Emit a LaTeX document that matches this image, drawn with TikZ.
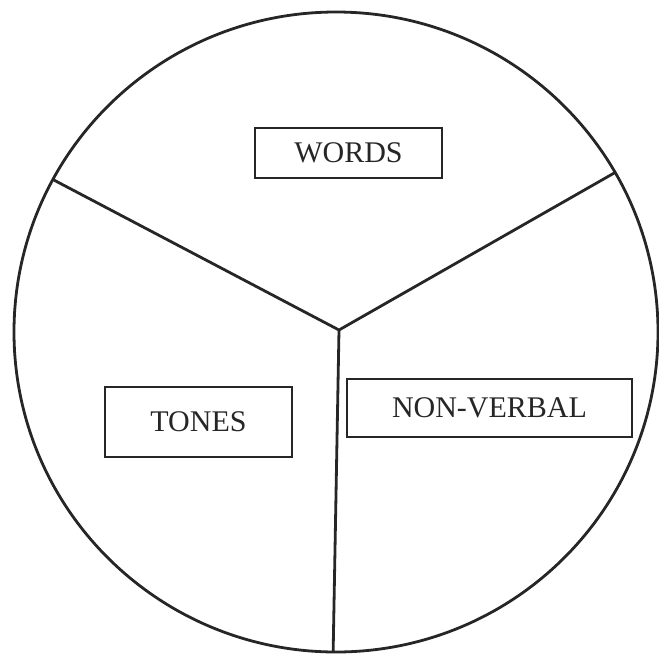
\documentclass[tikz,border=0pt]{standalone}
\usepackage{fontspec}
\setmainfont{Liberation Serif}
\begin{document}
\begin{tikzpicture}[x=1pt,y=-1pt,
  divider/.style={line width=2.8pt, draw=black!85},
  labelbox/.style={draw=black!85, line width=1.5pt, inner sep=0pt, font=\fontsize{30}{32}\selectfont, text=black!85}]
\useasboundingbox (0,0) rectangle (659,654);
\coordinate (o) at (336,332);
\coordinate (c) at (339,330);
\coordinate (l) at (50,178);
\coordinate (r) at (630,164);
\coordinate (b) at (333,660);
\begin{scope}
  \clip (o) ellipse [x radius=322, y radius=320];
  \draw[divider] (l) -- (c) -- (r);
  \draw[divider] (c) -- (b);
\end{scope}
\draw[line width=2.8pt, draw=black!85] (o) ellipse [x radius=322, y radius=320];
\node[labelbox, minimum width=187, minimum height=50] (words) at (348.5,153) {WORDS};
\node[labelbox, minimum width=187, minimum height=70] (tones) at (198.5,422) {TONES};
\node[labelbox, minimum width=285, minimum height=58] (nonverbal) at (489.5,408) {NON-VERBAL};
\end{tikzpicture}
\end{document}
